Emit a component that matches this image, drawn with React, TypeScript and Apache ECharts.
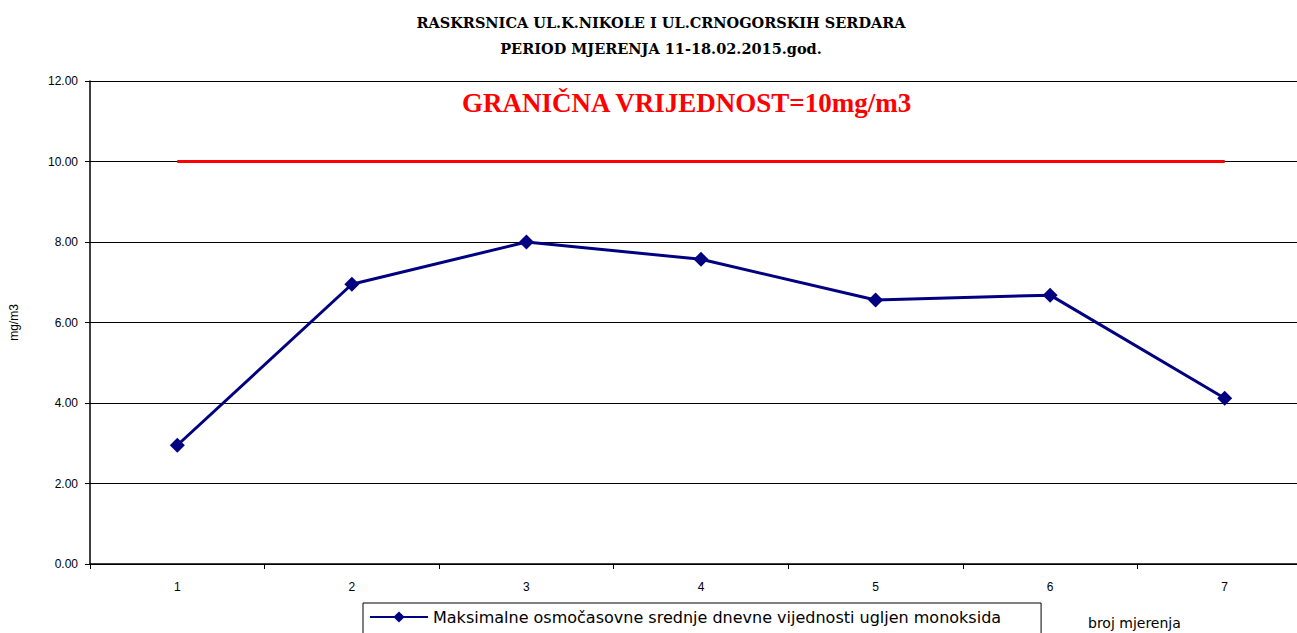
import React, { useEffect, useRef } from "react";
import * as echarts from "echarts";

const categories = ["1", "2", "3", "4", "5", "6", "7"];
const coValues = [2.95, 6.95, 8.0, 7.57, 6.56, 6.68, 4.12];
const limitValues = [10, 10, 10, 10, 10, 10, 10];
const titleLines = ["RASKRSNICA UL.K.NIKOLE I UL.CRNOGORSKIH SERDARA", "PERIOD MJERENJA 11-18.02.2015.god."];
const seriesName = "Maksimalne osmočasovne srednje dnevne vijednosti ugljen monoksida";
const limitText = "GRANIČNA VRIJEDNOST=10mg/m3";

export default function App() {
  const ref = useRef<HTMLDivElement>(null);
  useEffect(() => {
    if (!ref.current) return;
    const chart = echarts.init(ref.current, null, { renderer: "svg" });
    chart.setOption({
      animation: false,
      backgroundColor: "#ffffff",
      title: {
        text: titleLines.join("\n"),
        left: 656,
        textAlign: "center",
        top: 4,
        textStyle: {
          fontFamily: "DejaVu Serif",
          fontWeight: "bold",
          fontSize: 14.5,
          lineHeight: 26,
          color: "#000",
        },
      },
      grid: { left: 90, top: 81, right: 0, height: 483 },
      xAxis: {
        type: "category",
        data: categories,
        boundaryGap: true,
        axisLine: { lineStyle: { color: "#000", width: 1.5 } },
        axisTick: { show: true, length: 5, lineStyle: { color: "#000" } },
        axisLabel: { color: "#000", fontFamily: "Liberation Sans", fontSize: 12, margin: 17 },
      },
      yAxis: {
        type: "value",
        min: 0,
        max: 12,
        interval: 2,
        name: "mg/m3",
        nameLocation: "middle",
        nameRotate: 90,
        nameGap: 70,
        nameTextStyle: { color: "#000", fontFamily: "Liberation Sans", fontSize: 12 },
        axisLine: { show: true, lineStyle: { color: "#000", width: 1.5 } },
        axisTick: { show: true, length: 5, lineStyle: { color: "#000" } },
        axisLabel: {
          color: "#000",
          fontFamily: "Liberation Sans",
          fontSize: 12,
          margin: 12,
          formatter: (v: number) => v.toFixed(2),
        },
        splitLine: { show: true, lineStyle: { color: "#000", width: 1 } },
      },
      legend: {
        data: [{ name: seriesName }],
        left: 363,
        top: 603,
        borderColor: "#000",
        borderWidth: 1,
        padding: [6, 40, 12, 6],
        itemWidth: 58,
        itemHeight: 14,
        itemGap: 4,
        textStyle: { color: "#000", fontFamily: "DejaVu Sans", fontSize: 16 },
      },
      graphic: [
        {
          type: "text",
          left: 462,
          top: 89,
          style: {
            text: limitText,
            fill: "#ff0000",
            font: "bold 27px 'Liberation Serif'",
          },
        },
        {
          type: "text",
          left: 1088,
          top: 616,
          style: {
            text: "broj mjerenja",
            fill: "#000",
            font: "14px 'DejaVu Sans'",
          },
        },
      ],
      series: [
        {
          name: "limit",
          type: "line",
          data: limitValues,
          symbol: "none",
          lineStyle: { color: "#ff0000", width: 3 },
          itemStyle: { color: "#ff0000" },
          z: 3,
        },
        {
          name: seriesName,
          type: "line",
          data: coValues,
          symbol: "diamond",
          symbolSize: 15,
          lineStyle: { color: "#000080", width: 3 },
          itemStyle: { color: "#000080" },
          z: 4,
        },
      ],
    });
    return () => chart.dispose();
  }, []);
  return (
    <div
      ref={ref}
      style={{ position: "fixed", left: 0, top: 0, width: 1312, height: 633 }}
    />
  );
}
